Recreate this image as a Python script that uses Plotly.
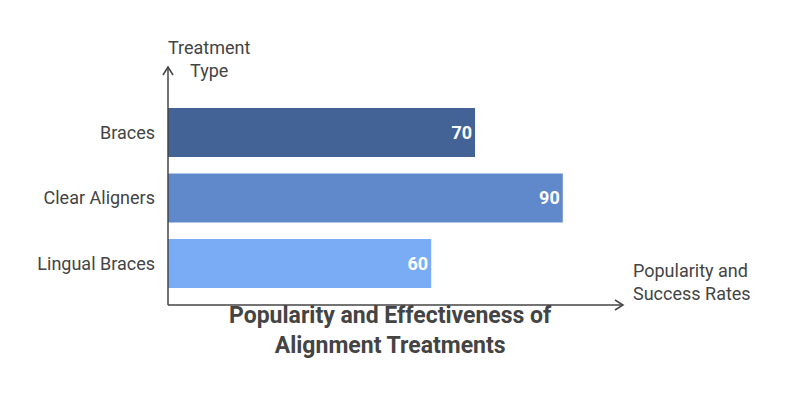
import plotly.graph_objects as go

treatments = ["Lingual Braces", "Clear Aligners", "Braces"]
scores = [60, 90, 70]
colors = ["#7aabf5", "#5f89cb", "#436396"]

# page body has an 8px margin, so the figure is drawn 8px smaller and offset
W, H = 770, 386
OFF = 8


def px(x):
    return (x - OFF) / W


def py(y):
    return 1 - (y - OFF) / H


y_pos = list(range(len(treatments)))

fig = go.Figure(go.Bar(
    x=scores, y=y_pos, orientation="h", width=0.75,
    marker=dict(color=colors, line=dict(width=0)),
    text=[str(s) for s in scores], textposition="inside", insidetextanchor="end",
    textfont=dict(family="Roboto", size=18, color="white", weight="bold"),
))

fig.update_layout(
    width=W, height=H, margin=dict(l=0, r=0, t=0, b=0),
    plot_bgcolor="white", paper_bgcolor="white", showlegend=False,
    font=dict(family="Roboto", color="#444444"),
    xaxis=dict(domain=[px(168), px(622)], range=[0, 103.5], visible=False),
    yaxis=dict(domain=[py(305), py(68)], range=[-0.634, 2.985],
               tickvals=y_pos, ticktext=treatments, showgrid=False, zeroline=False,
               showline=False, ticks="", ticklabelstandoff=12,
               tickfont=dict(size=18, color="#444444")),
)

# axis lines with arrow heads
line = dict(color="#444444", width=1.5)
fig.add_shape(type="line", xref="paper", yref="paper", x0=px(168), x1=px(168),
              y0=py(305), y1=py(67), line=line)
fig.add_shape(type="line", xref="paper", yref="paper", x0=px(168), x1=px(623),
              y0=py(305), y1=py(305), line=line)
fig.add_shape(type="path", xref="paper", yref="paper",
              path=f"M {px(163)} {py(75)} L {px(168)} {py(67)} L {px(173)} {py(75)}", line=line)
fig.add_shape(type="path", xref="paper", yref="paper",
              path=f"M {px(615)} {py(300)} L {px(623)} {py(305)} L {px(615)} {py(310)}", line=line)

fig.add_annotation(xref="paper", yref="paper", x=px(166), y=py(35),
                   text="Treatment<br>Type", showarrow=False, align="center",
                   font=dict(size=18, color="#444444"))
fig.add_annotation(xref="paper", yref="paper", x=px(631), y=py(306), xanchor="left",
                   text="Popularity and<br>Success Rates", showarrow=False, align="left",
                   font=dict(size=18, color="#444444"))
fig.add_annotation(xref="paper", yref="paper", x=px(390), y=py(361),
                   text="<b>Popularity and Effectiveness of<br>Alignment Treatments</b>",
                   showarrow=False, align="center",
                   font=dict(size=23, color="#444444"))

fig.write_html("out.html")
